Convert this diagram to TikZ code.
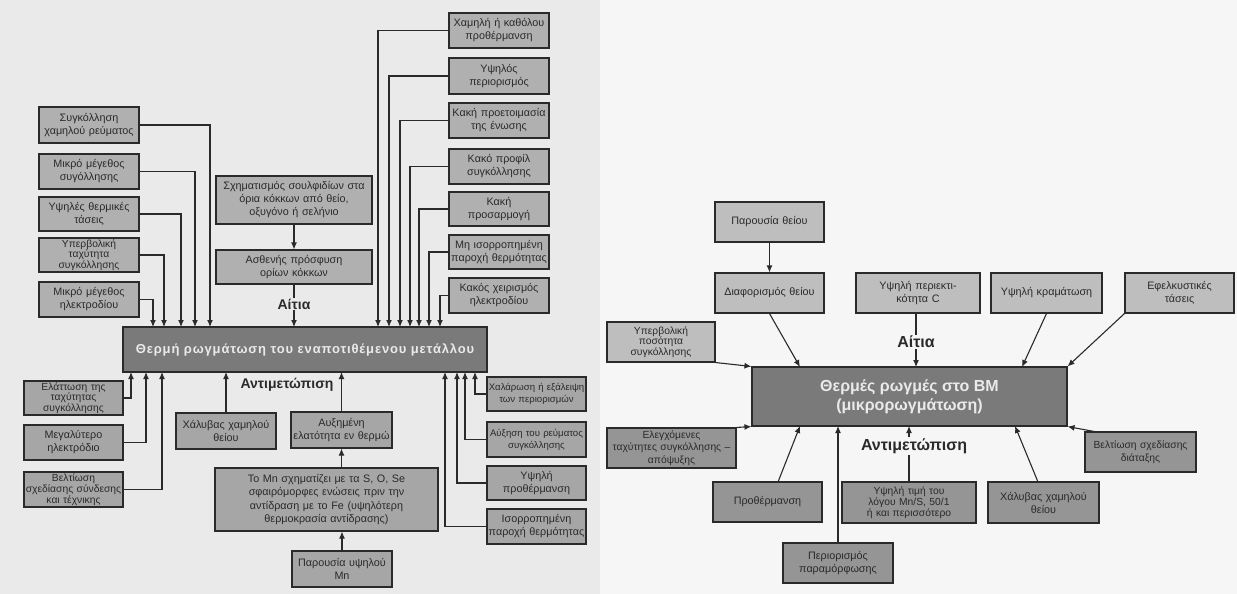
\documentclass[tikz,border=0pt]{standalone}
\usepackage{fontspec}
\setmainfont{Liberation Sans}
\newfontfamily\spacedbold[LetterSpace=6.5]{Liberation Sans}
\usetikzlibrary{arrows.meta,calc}
\definecolor{bgL}{HTML}{EAEAEA}
\definecolor{bgR}{HTML}{F6F6F6}
\definecolor{lbox}{HTML}{B0B0B0}
\definecolor{lbox2}{HTML}{A6A6A6}
\definecolor{rtop}{HTML}{BEBEBE}
\definecolor{rbot}{HTML}{959595}
\definecolor{mainc}{HTML}{7A7A7A}
\definecolor{mtext}{HTML}{EAEAEA}
\definecolor{ink}{HTML}{2A2A2A}
\begin{document}
\begin{tikzpicture}[x=1pt,y=-1pt,
  box/.style={draw=ink,line width=1.1pt,fill=lbox,align=center,inner xsep=0pt,inner ysep=0pt,text=ink,font=\fontsize{10.8}{13}\selectfont},
  sz/.style 2 args={text width=#1,minimum height=#2},
  tight/.style={font=\fontsize{10.3}{10.8}\selectfont},
  small/.style={font=\fontsize{9.6}{12}\selectfont},
  mainbox/.style={draw=ink,line width=1.1pt,fill=mainc,align=center,inner sep=0pt,text=mtext},
  arr/.style={draw=ink,line width=1.1pt,-{Latex[length=7pt,width=6pt]}},
  ln/.style={draw=ink,line width=1.1pt},
  lab/.style={font=\fontsize{14}{16}\bfseries\selectfont,text=ink,inner sep=1pt},
  labR/.style={font=\fontsize{16}{18}\bfseries\selectfont,text=ink,inner sep=1pt}]
\fill[bgL] (0,0) rectangle (600,594);
\fill[bgR] (600,0) rectangle (1237,594);
\useasboundingbox (0,0) rectangle (1237,594);

% ---------- left diagram ----------
\node[mainbox,minimum width=364pt,minimum height=45pt,font=\spacedbold\fontsize{13}{15}\bfseries\selectfont] (M) at (305,349.5) {Θερμή ρωγμάτωση του εναποτιθέμενου μετάλλου};

\node[box,sz={100pt}{36pt}] (L1) at (89,125) {Συγκόλληση\\χαμηλού ρεύματος};
\node[box,sz={100pt}{35pt}] (L2) at (89,171.5) {Μικρό μέγεθος\\συγόλλησης};
\node[box,sz={100pt}{34pt}] (L3) at (89,214) {Υψηλές θερμικές\\τάσεις};
\node[box,tight,sz={100pt}{34pt}] (L4) at (89,255) {Υπερβολική\\ταχύτητα\\συγκόλλησης};
\node[box,sz={100pt}{35pt}] (L5) at (89,299.5) {Μικρό μέγεθος\\ηλεκτροδίου};

\node[box,sz={156pt}{48pt}] (S1) at (294,200) {Σχηματισμός σουλφιδίων στα\\όρια κόκκων από θείο,\\οξυγόνο ή σελήνιο};
\node[box,sz={156pt}{34pt}] (S2) at (294,267) {Ασθενής πρόσφυση\\ορίων κόκκων};
\node[lab] (A1) at (294,304) {Αίτια};

\node[box,sz={100pt}{35pt}] (R1) at (499,30.5) {Χαμηλή ή καθόλου\\προθέρμανση};
\node[box,sz={100pt}{36pt}] (R2) at (499,76) {Υψηλός\\περιορισμός};
\node[box,sz={100pt}{35pt}] (R3) at (499,120.5) {Κακή προετοιμασία\\της ένωσης};
\node[box,sz={100pt}{35pt}] (R4) at (499,166.5) {Κακό προφίλ\\συγκόλλησης};
\node[box,sz={100pt}{34pt}] (R5) at (499,209) {Κακή\\προσαρμογή};
\node[box,sz={100pt}{34pt}] (R6) at (499,252) {Μη ισορροπημένη\\παροχή θερμότητας};
\node[box,sz={100pt}{35pt}] (R7) at (499,295.5) {Κακός χειρισμός\\ηλεκτροδίου};

\node[box,fill=lbox2,tight,sz={99pt}{34pt}] (B1) at (73.5,398) {Ελάττωση της\\ταχύτητας\\συγκόλλησης};
\node[box,fill=lbox2,sz={99pt}{35pt}] (B2) at (73.5,442.5) {Μεγαλύτερο\\ηλεκτρόδιο};
\node[box,fill=lbox2,tight,sz={99pt}{35pt}] (B3) at (73.5,489.5) {Βελτίωση\\σχεδίασης σύνδεσης\\και τέχνικης};

\node[lab] (AL) at (287,385) {Αντιμετώπιση};
\node[box,fill=lbox2,sz={100pt}{36pt}] (C1) at (226,431) {Χάλυβας χαμηλού\\θείου};
\node[box,fill=lbox2,sz={101pt}{36pt}] (C2) at (341.5,430) {Αυξημένη\\ελατότητα εν θερμώ};
\node[box,fill=lbox2,sz={223pt}{63pt},font=\fontsize{10.8}{13.5}\selectfont] (C3) at (326.5,499.5) {Το Mn σχηματίζει με τα S, O, Se\\σφαιρόμορφες ενώσεις πριν την\\αντίδραση με το Fe (υψηλότερη\\θερμοκρασία αντίδρασης)};
\node[box,fill=lbox2,sz={100pt}{36pt}] (C4) at (342,569) {Παρουσία υψηλού\\Mn};

\node[box,fill=lbox2,small,sz={99pt}{34pt}] (D1) at (536.5,394) {Χαλάρωση ή εξάλειψη\\των περιορισμών};
\node[box,fill=lbox2,small,sz={99pt}{35pt}] (D2) at (536.5,439.5) {Αύξηση του ρεύματος\\συγκόλλησης};
\node[box,fill=lbox2,sz={99pt}{34pt}] (D3) at (536.5,483) {Υψηλή\\προθέρμανση};
\node[box,fill=lbox2,sz={99pt}{35pt}] (D4) at (536.5,526.5) {Ισορροπημένη\\παροχή θερμότητας};

% entry points on the main box
\coordinate (t1) at (210,327);
\coordinate (t2) at (195,327);
\coordinate (t3) at (181,327);
\coordinate (t4) at (164,327);
\coordinate (t5) at (153,327);
\coordinate (r1) at (378,327);
\coordinate (r2) at (389,327);
\coordinate (r3) at (400,327);
\coordinate (r4) at (410,327);
\coordinate (r5) at (419,327);
\coordinate (r6) at (429,327);
\coordinate (r7) at (440,327);
\coordinate (ta) at (294,327);
\coordinate (b1) at (131,372);
\coordinate (b2) at (146,372);
\coordinate (b3) at (162,372);
\coordinate (c1) at (226,372);
\coordinate (c2) at (341.5,372);
\coordinate (d1) at (475,372);
\coordinate (d2) at (465,372);
\coordinate (d3) at (457,372);
\coordinate (d4) at (445,372);

\draw[arr] (L1.east) -| (t1);
\draw[arr] (L2.east) -| (t2);
\draw[arr] (L3.east) -| (t3);
\draw[arr] (L4.east) -| (t4);
\draw[arr] (L5.east) -| (t5);
\draw[arr] (R1.west) -| (r1);
\draw[arr] (R2.west) -| (r2);
\draw[arr] (R3.west) -| (r3);
\draw[arr] (R4.west) -| (r4);
\draw[arr] (R5.west) -| (r5);
\draw[arr] (R6.west) -| (r6);
\draw[arr] (R7.west) -| (r7);
\draw[arr] (S1.south) -- (S2.north);
\draw[ln] (S2.south) -- (A1.north);
\draw[arr] (A1.south) -- (ta);
\draw[arr] (B1.east) -| (b1);
\draw[arr] (B2.east) -| (b2);
\draw[arr] (B3.east) -| (b3);
\draw[arr] (C1.north) -- (c1);
\draw[arr] (C2.north) -- (c2);
\draw[arr] (C3.north -| C2.south) -- (C2.south);
\draw[arr] (C4.north) -- (C4.north |- C3.south);
\draw[arr] (D1.west) -| (d1);
\draw[arr] (D2.west) -| (d2);
\draw[arr] (D3.west) -| (d3);
\draw[arr] (D4.west) -| (d4);

% ---------- right diagram ----------
\node[mainbox,minimum width=315pt,minimum height=59pt,font=\fontsize{16}{19}\bfseries\selectfont] (N) at (909.5,396.5) {Θερμές ρωγμές στο ΒΜ\\(μικρορωγμάτωση)};

\node[box,fill=rtop,sz={109pt}{40pt}] (P1) at (769.5,222) {Παρουσία θείου};
\node[box,fill=rtop,sz={109pt}{40pt}] (P2) at (769.5,293) {Διαφορισμός θείου};
\node[box,fill=rtop,tight,sz={108pt}{40pt}] (P3) at (661,342) {Υπερβολική\\ποσότητα\\συγκόλλησης};
\node[box,fill=rtop,sz={124pt}{40pt}] (P4) at (918,293) {Υψηλή περιεκτι-\\κότητα C};
\node[box,fill=rtop,sz={111pt}{40pt}] (P5) at (1046.5,293) {Υψηλή κραμάτωση};
\node[box,fill=rtop,sz={109pt}{40pt}] (P6) at (1179.5,293) {Εφελκυστικές\\τάσεις};
\node[labR] (A2) at (916,342) {Αίτια};

\node[box,fill=rbot,font=\fontsize{10.3}{12.5}\selectfont,sz={129pt}{40pt}] (Q1) at (671.5,448) {Ελεγχόμενες\\ταχύτητες συγκόλλησης –\\απόψυξης};
\node[box,fill=rbot,sz={109pt}{40pt}] (Q2) at (767.5,502) {Προθέρμανση};
\node[box,fill=rbot,sz={110pt}{40pt}] (Q3) at (838,563) {Περιορισμός\\παραμόρφωσης};
\node[box,fill=rbot,tight,sz={134pt}{41pt}] (Q4) at (909,502.5) {Υψηλή τιμή του\\λόγου Mn/S, 50/1\\ή και περισσότερο};
\node[box,fill=rbot,sz={111pt}{41pt}] (Q5) at (1043.5,502.5) {Χάλυβας χαμηλού\\θείου};
\node[box,fill=rbot,font=\fontsize{10.3}{13}\selectfont,sz={111pt}{40pt}] (Q6) at (1140.5,452) {Βελτίωση σχεδίασης\\διάταξης};
\node[labR] (A3) at (914,446) {Αντιμετώπιση};

\coordinate (n1) at (800,367);
\coordinate (n2) at (916,367);
\coordinate (n3) at (1022,367);
\coordinate (n4) at (800,426);
\coordinate (n5) at (838,426);
\coordinate (n6) at (909,426);
\coordinate (n7) at (1015,426);
\coordinate (q2s) at (778,482);
\coordinate (q5s) at (1038,482);
\coordinate (q6s) at (1097,432);

\draw[arr] (P1.south) -- (P2.north);
\draw[arr] (P2.south) -- (n1);
\draw[arr] (P3.south east) -- (N.north west);
\draw[ln] (P4.south -| A2.north) -- (A2.north);
\draw[arr] (A2.south) -- (n2);
\draw[arr] (P5.south) -- (n3);
\draw[arr] (P6.south west) -- (N.north east);
\draw[arr] (Q1.north east) -- (N.south west);
\draw[arr] (q2s) -- (n4);
\draw[arr] (Q3.north) -- (n5);
\draw[ln] (Q4.north) -- (Q4.north |- A3.south);
\draw[arr] (Q4.north |- A3.north) -- (n6);
\draw[arr] (q5s) -- (n7);
\draw[arr] (q6s) -- (N.south east);
\end{tikzpicture}
\end{document}
